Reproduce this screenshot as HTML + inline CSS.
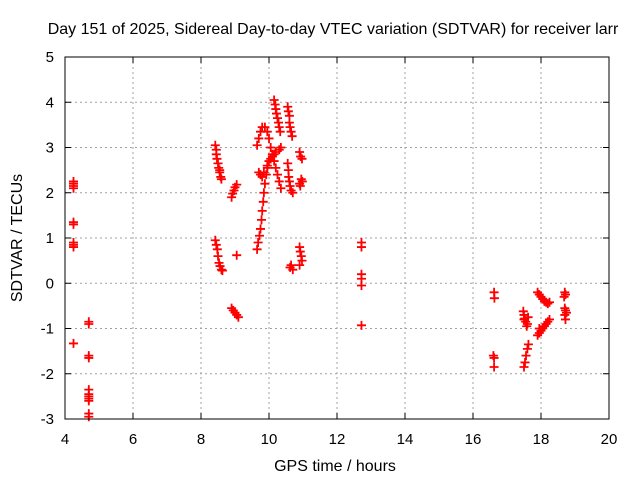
<!DOCTYPE html>
<html><head><meta charset="utf-8"><style>
body{margin:0;background:#fff}
svg{display:block;font-family:"Liberation Sans",sans-serif}
</style></head><body>
<svg id="chart" width="640" height="480" viewBox="0 0 640 480" xmlns="http://www.w3.org/2000/svg">
<rect width="640" height="480" fill="#fff"/>
<text x="333" y="34" font-size="16" text-anchor="middle" fill="#000">Day 151 of 2025, Sidereal Day-to-day VTEC variation (SDTVAR) for receiver larr</text>
<text transform="translate(22,238) rotate(-90)" font-size="16" text-anchor="middle">SDTVAR / TECUs</text>
<text x="335" y="471" font-size="16" text-anchor="middle">GPS time / hours</text>
<g id="grid"></g>
<g id="ticks"></g>
<g id="marks"></g>
<rect x="65" y="57" width="544" height="362" fill="none" stroke="#000" stroke-width="1"/>
</svg>
<script>
const xTicks=[4,6,8,10,12,14,16,18,20];
const yTicks=[-3,-2,-1,0,1,2,3,4,5];
const hours=[4.25,4.25,4.25,4.25,4.25,4.25,4.25,4.25,4.25,4.25,
4.7,4.7,4.7,4.7,4.7,4.7,4.7,4.7,4.7,4.7,4.7,
8.42,8.45,8.45,8.47,8.5,8.52,8.55,8.58,8.6,8.55,
8.9,8.93,8.97,9.0,9.05,9.05,
8.42,8.45,8.48,8.5,8.53,8.56,8.6,8.63,
8.9,8.95,9.0,9.05,9.1,
9.65,9.68,9.72,9.75,9.78,9.8,9.83,9.85,9.88,9.92,9.95,
9.7,9.75,9.8,9.85,
9.65,9.7,9.75,9.8,9.88,9.95,10.0,10.05,10.1,10.15,10.2,10.25,10.3,10.35,
9.95,10.0,10.05,10.1,10.15,10.2,10.3,10.35,
10.15,10.18,10.2,10.22,10.25,10.28,10.3,10.33,
10.55,10.57,10.6,10.6,10.62,10.65,10.68,
10.55,10.57,10.58,10.6,10.62,10.65,10.7,
10.9,10.93,10.97,10.95,10.9,10.98,10.92,
10.65,10.7,10.62,10.9,10.92,10.95,10.97,10.9,
12.72,12.72,12.72,12.72,12.72,12.72,
16.62,16.63,16.6,16.62,16.62,
17.48,17.5,17.52,17.55,17.6,17.58,17.5,17.62,
17.5,17.53,17.56,17.6,17.63,
17.9,17.95,18.0,18.05,18.1,18.15,18.2,18.25,17.95,
17.9,17.95,18.0,18.05,18.1,18.15,18.2,18.25,
18.7,18.72,18.68,18.7,18.72,18.75,18.7,18.72];
const sdtvar=[2.25,2.2,2.15,2.1,1.35,1.3,0.9,0.85,0.8,-1.33,
-0.85,-0.9,-1.6,-1.65,-2.35,-2.45,-2.5,-2.55,-2.6,-2.88,-2.95,
3.05,2.95,2.85,2.75,2.65,2.55,2.45,2.35,2.3,2.5,
1.9,1.98,2.05,2.12,2.18,0.62,
0.95,0.85,0.75,0.6,0.45,0.38,0.3,0.28,
-0.55,-0.6,-0.65,-0.7,-0.75,
0.75,0.9,1.05,1.2,1.4,1.6,1.8,2.0,2.2,2.4,2.55,
2.45,2.4,2.35,2.45,
3.05,3.2,3.35,3.45,3.45,3.35,3.2,3.0,2.85,2.7,2.55,2.4,2.25,2.1,
2.6,2.7,2.75,2.8,2.85,2.9,2.95,3.0,
4.05,3.95,3.85,3.75,3.65,3.55,3.45,3.35,
3.9,3.8,3.7,3.55,3.45,3.35,3.25,
2.65,2.5,2.35,2.25,2.15,2.05,2.0,
2.9,2.8,2.75,2.3,2.2,2.25,2.15,
0.4,0.3,0.35,0.8,0.7,0.6,0.5,0.4,
0.9,0.8,0.2,0.1,-0.05,-0.93,
-0.2,-0.33,-1.6,-1.65,-1.85,
-0.62,-0.7,-0.78,-0.85,-0.9,-0.95,-0.8,-0.75,
-1.85,-1.75,-1.6,-1.45,-1.35,
-1.15,-1.1,-1.05,-1.0,-0.95,-0.9,-0.85,-0.8,-1.0,
-0.2,-0.25,-0.3,-0.35,-0.4,-0.42,-0.45,-0.42,
-0.2,-0.25,-0.3,-0.55,-0.6,-0.65,-0.7,-0.8];
const NS="http://www.w3.org/2000/svg";
const L=65,R=609,T=57,B=419;
function xs(v){return L+(v-4)/(20-4)*(R-L);}
function ys(v){return B-(v+3)/(5+3)*(B-T);}
function mk(tag,attrs,parent){const e=document.createElementNS(NS,tag);for(const k in attrs)e.setAttribute(k,attrs[k]);parent.appendChild(e);return e;}
const grid=document.getElementById('grid'),ticks=document.getElementById('ticks'),marks=document.getElementById('marks');
xTicks.forEach(t=>{const x=xs(t);
 if(t>4&&t<20){const g=mk('line',{x1:x,x2:x,y1:T,y2:B,stroke:'#a0a0a0','stroke-dasharray':'2,3'},grid);
 
 }
 mk('line',{x1:x,x2:x,y1:B,y2:B-6,stroke:'#000'},ticks);mk('line',{x1:x,x2:x,y1:T,y2:T+6,stroke:'#000'},ticks);
 const lb=mk('text',{x:x,y:B+25,'font-size':15,'text-anchor':'middle'},ticks);lb.textContent=t;
 
 });
yTicks.forEach(t=>{const y=ys(t);
 if(t>-3&&t<5){const g=mk('line',{x1:L,x2:R,y1:y,y2:y,stroke:'#a0a0a0','stroke-dasharray':'2,3'},grid);
 
 }
 mk('line',{x1:L,x2:L+6,y1:y,y2:y,stroke:'#000'},ticks);mk('line',{x1:R,x2:R-6,y1:y,y2:y,stroke:'#000'},ticks);
 const lb=mk('text',{x:L-11,y:y+5,'font-size':15,'text-anchor':'end'},ticks);lb.textContent=t;
 
 });
hours.forEach((h,i)=>{const x=xs(h),y=ys(sdtvar[i]);
 const p=mk('path',{d:`M${x-4.5},${y}H${x+4.5}M${x},${y-4.5}V${y+4.5}`,stroke:'#f00','stroke-width':1.8,fill:'none'},marks);
 
 });
</script>
</body></html>
